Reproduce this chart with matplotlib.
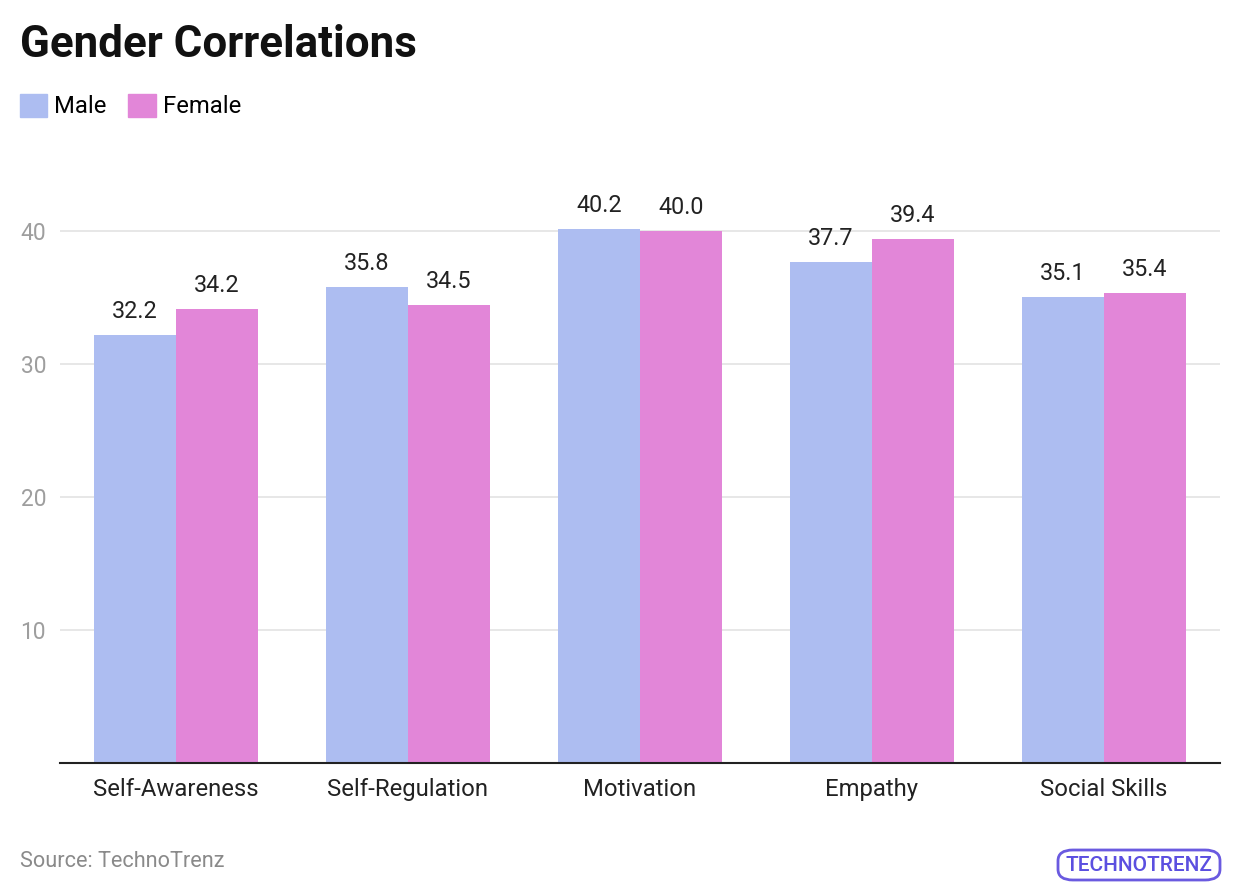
import numpy as np
import matplotlib.pyplot as plt
from matplotlib.patches import FancyBboxPatch, Patch

plt.rcParams['font.family'] = ['Roboto', 'DejaVu Sans']

categories = ["Self-Awareness", "Self-Regulation", "Motivation", "Empathy", "Social Skills"]
male = [32.2, 35.8, 40.2, 37.7, 35.1]
female = [34.2, 34.5, 40.0, 39.4, 35.4]
yticks = [10, 20, 30, 40]

male_color = "#adbdf1"
female_color = "#e286d8"

fig = plt.figure(figsize=(12.4, 8.96), dpi=100)
ax = fig.add_axes([60 / 1240, 1 - 763 / 896, 1160 / 1240, (763 - 165) / 896])

x = np.arange(len(categories))
w = 0.353
ax.bar(x - w / 2, male, width=w, color=male_color, zorder=2)
ax.bar(x + w / 2, female, width=w, color=female_color, zorder=2)

for xi, v in zip(x - w / 2, male):
    ax.text(xi, v + 0.9, f"{v:.1f}", ha="center", va="bottom", fontsize=16.8, color="#222222")
for xi, v in zip(x + w / 2, female):
    ax.text(xi, v + 0.9, f"{v:.1f}", ha="center", va="bottom", fontsize=16.8, color="#222222")

ax.set_xlim(-0.5, len(categories) - 0.5)
ax.set_ylim(0, 45)
ax.set_yticks(yticks)
ax.set_yticklabels([str(t) for t in yticks], fontsize=16.4, color="#9e9e9e")
ax.set_xticks(x)
ax.set_xticklabels(categories, fontsize=17.2, color="#222222")
ax.tick_params(axis="y", length=0, pad=10)
ax.tick_params(axis="x", length=0, pad=11)
ax.grid(axis="y", color="#e3e3e3", linewidth=1.2, zorder=0)
for side in ["top", "right", "left"]:
    ax.spines[side].set_visible(False)
ax.spines["bottom"].set_color("#222222")
ax.spines["bottom"].set_linewidth(1.5)
ax.spines["bottom"].set_zorder(3)

fig.text(20 / 1240, 1 - 45 / 896, "Gender Correlations", fontsize=31.6, fontweight="bold",
         va="center", ha="left", color="#111111")

handles = [Patch(color=male_color, label="Male"), Patch(color=female_color, label="Female")]
fig.legend(handles=handles, loc="center left", bbox_to_anchor=(10 / 1240, 1 - 106 / 896),
           ncol=2, frameon=False, fontsize=17.2, handlelength=1.15, handleheight=1.15,
           handletextpad=0.3, columnspacing=0.9, borderaxespad=0)

fig.text(20 / 1240, 1 - 861 / 896, "Source: TechnoTrenz", fontsize=15.6, color="#8a8a8a",
         va="center", ha="left")

# logo
logo = FancyBboxPatch((1058 / 1240, 1 - 880 / 896), 162 / 1240, 30 / 896,
                      boxstyle="round,pad=0,rounding_size=0.012", transform=fig.transFigure,
                      fill=False, edgecolor="#6a5ae0", linewidth=2)
fig.patches.append(logo)
fig.text(1139 / 1240, 1 - 865 / 896, "TECHNOTRENZ", fontsize=15, color="#5b4fe0",
         ha="center", va="center", fontweight="medium")

fig.savefig("out.png", dpi=100)
